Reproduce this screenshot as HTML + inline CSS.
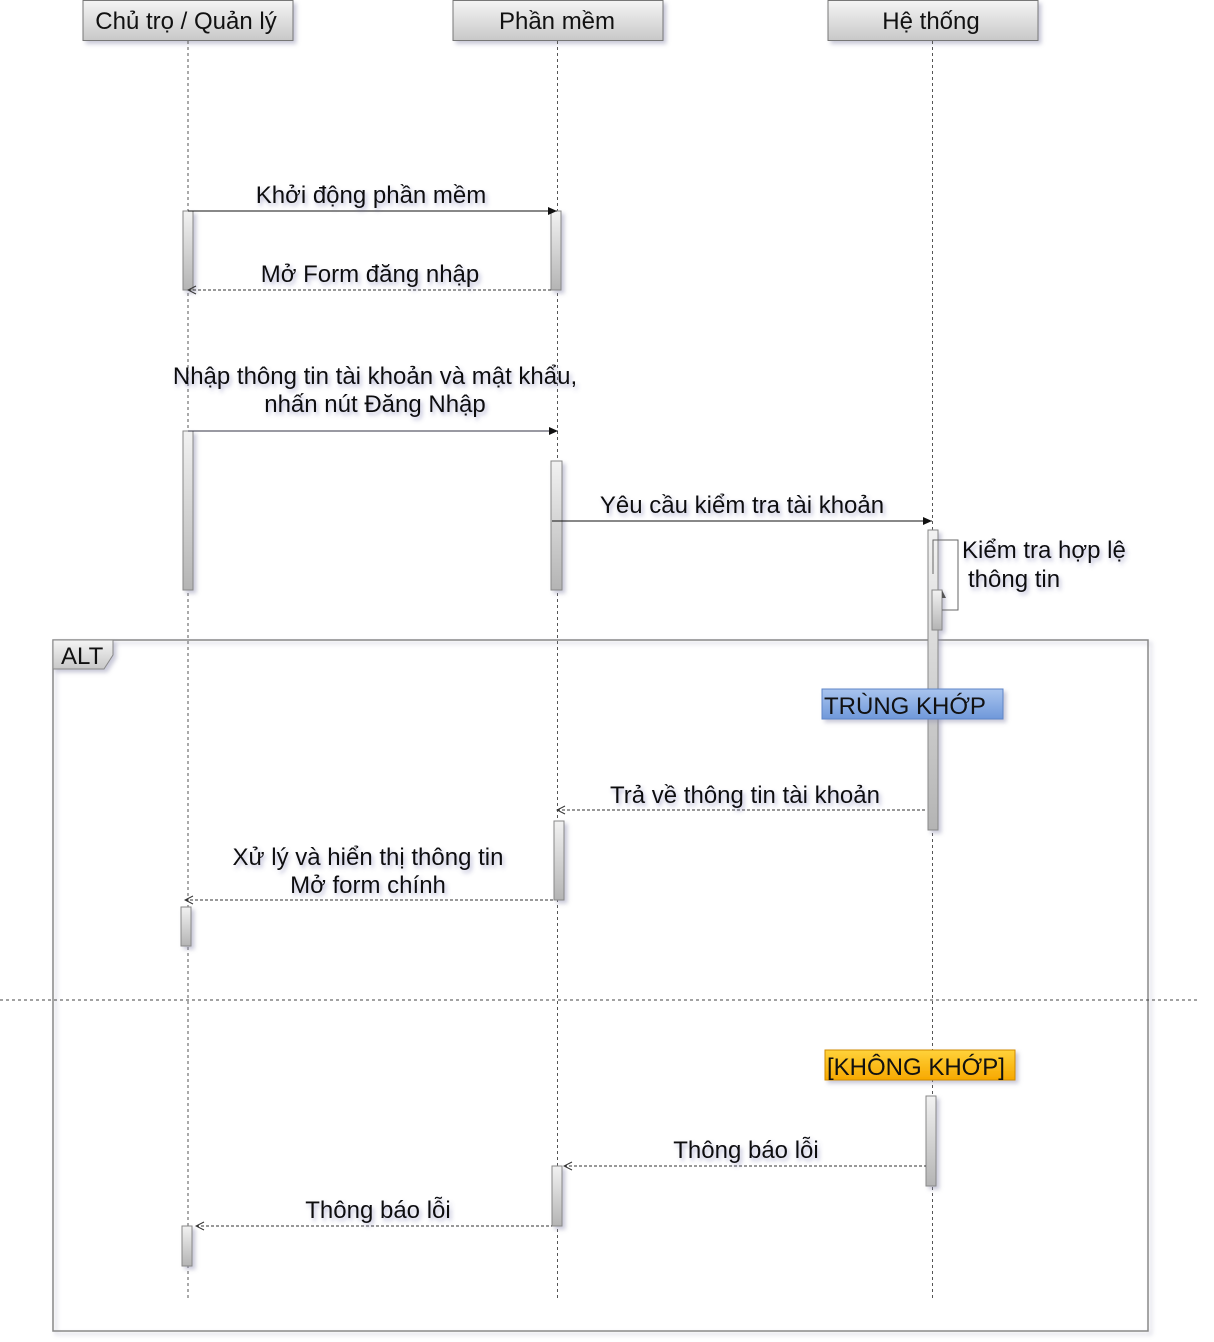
<!DOCTYPE html>
<html><head><meta charset="utf-8"><style>
html,body{margin:0;padding:0;background:#fff;}
svg{display:block}
text{font-family:"Liberation Sans",sans-serif;font-size:24px;fill:#111;}
</style></head><body>
<svg width="1214" height="1342" viewBox="0 0 1214 1342" xmlns="http://www.w3.org/2000/svg">
<defs>
<linearGradient id="hd" x1="0" y1="0" x2="0" y2="1"><stop offset="0" stop-color="#f4f4f4"/><stop offset="1" stop-color="#c8c8c8"/></linearGradient>
<linearGradient id="act" x1="0" y1="0" x2="0" y2="1"><stop offset="0" stop-color="#f2f2f2"/><stop offset="1" stop-color="#b4b4b4"/></linearGradient>
<linearGradient id="blue" x1="0" y1="0" x2="0" y2="1"><stop offset="0" stop-color="#a9c4ee"/><stop offset="1" stop-color="#6f98da"/></linearGradient>
<linearGradient id="org" x1="0" y1="0" x2="0" y2="1"><stop offset="0" stop-color="#ffd23a"/><stop offset="1" stop-color="#f7a800"/></linearGradient>
<filter id="sh" x="-20%" y="-20%" width="150%" height="150%"><feDropShadow dx="3" dy="3" stdDeviation="2" flood-color="#8888aa" flood-opacity="0.45"/></filter>
<filter id="ts" x="-5%" y="-20%" width="110%" height="160%"><feDropShadow dx="2" dy="3" stdDeviation="2" flood-color="#6060a0" flood-opacity="0.45"/></filter>
<marker id="fa" markerWidth="10" markerHeight="10" refX="9" refY="5" orient="auto" markerUnits="userSpaceOnUse"><path d="M0,1 L9,5 L0,9 z" fill="#111"/></marker>
<marker id="oa" markerWidth="12" markerHeight="12" refX="1" refY="6" orient="auto" markerUnits="userSpaceOnUse"><path d="M9,2 L1,6 L9,10" fill="none" stroke="#333" stroke-width="1"/></marker>
</defs>

<g filter="url(#sh)">
<rect x="83" y="0.5" width="210" height="40" fill="url(#hd)" stroke="#777"/>
<rect x="453" y="0.5" width="210" height="40" fill="url(#hd)" stroke="#777"/>
<rect x="828" y="0.5" width="210" height="40" fill="url(#hd)" stroke="#777"/>
</g>
<text x="186" y="29" text-anchor="middle">Chủ trọ / Quản lý</text>
<text x="557" y="29" text-anchor="middle">Phần mềm</text>
<text x="931" y="29" text-anchor="middle">Hệ thống</text>

<g stroke="#555" stroke-width="1" stroke-dasharray="3,3">
<line x1="188" y1="41" x2="188" y2="1300"/>
<line x1="557.5" y1="41" x2="557.5" y2="1300"/>
<line x1="932.5" y1="41" x2="932.5" y2="1300"/>
</g>

<rect x="53" y="640" width="1095" height="691" fill="none" stroke="#888" stroke-width="1.5" filter="url(#sh)"/>
<path d="M53,640 L113,640 L113,655 L104,669 L53,669 z" fill="url(#hd)" stroke="#888" filter="url(#sh)"/>
<text x="61" y="664">ALT</text>
<line x1="0" y1="1000" x2="1198" y2="1000" stroke="#444" stroke-dasharray="3,3"/>

<g fill="url(#act)" stroke="#888" filter="url(#sh)">
<rect x="183" y="211" width="10" height="79"/>
<rect x="551" y="211" width="10" height="79"/>
<rect x="183" y="431" width="10" height="159"/>
<rect x="551" y="461" width="11" height="129"/>
<rect x="928" y="530" width="10" height="300"/>
<rect x="932" y="590" width="10" height="40"/>
<rect x="554" y="821" width="10" height="79"/>
<rect x="181" y="907" width="10" height="39"/>
<rect x="926" y="1096" width="10" height="90"/>
<rect x="552" y="1166" width="10" height="60"/>
<rect x="182" y="1226" width="10" height="40"/>
</g>
<path d="M933,574 L933,540 L958,540 L958,610 L942,610" fill="none" stroke="#666" stroke-width="1"/>
<path d="M942,590 L946,598 L942,598 z" fill="#555"/>

<rect x="822" y="689" width="181" height="30" fill="url(#blue)" stroke="#5f86c8" filter="url(#sh)"/>
<text x="824" y="714">TRÙNG KHỚP</text>
<rect x="825" y="1050" width="190" height="30" fill="url(#org)" stroke="#d08a00" filter="url(#sh)"/>
<text x="827" y="1075">[KHÔNG KHỚP]</text>

<g stroke="#111" stroke-width="1">
<line x1="188" y1="211" x2="557" y2="211" marker-end="url(#fa)"/>
<line x1="188" y1="431" x2="558" y2="431" marker-end="url(#fa)" stroke="#334"/>
<line x1="552" y1="521" x2="932" y2="521" marker-end="url(#fa)"/>
</g>
<g stroke="#333" stroke-width="1" stroke-dasharray="3,2" fill="none">
<line x1="188" y1="290" x2="551" y2="290" marker-start="url(#oa)"/>
<line x1="557" y1="810" x2="927" y2="810" marker-start="url(#oa)"/>
<line x1="185" y1="900" x2="554" y2="900" marker-start="url(#oa)"/>
<line x1="564" y1="1166" x2="926" y2="1166" marker-start="url(#oa)"/>
<line x1="196" y1="1226" x2="552" y2="1226" marker-start="url(#oa)"/>
</g>

<g filter="url(#ts)">
<text x="371" y="203" text-anchor="middle">Khởi động phần mềm</text>
<text x="370" y="282" text-anchor="middle">Mở Form đăng nhập</text>
<text x="375" y="384" text-anchor="middle">Nhập thông tin tài khoản và mật khẩu,</text>
<text x="375" y="412" text-anchor="middle">nhấn nút Đăng Nhập</text>
<text x="742" y="513" text-anchor="middle">Yêu cầu kiểm tra tài khoản</text>
<text x="962" y="558">Kiểm tra hợp lệ</text>
<text x="968" y="587">thông tin</text>
<text x="745" y="803" text-anchor="middle">Trả về thông tin tài khoản</text>
<text x="368" y="865" text-anchor="middle">Xử lý và hiển thị thông tin</text>
<text x="368" y="893" text-anchor="middle">Mở form chính</text>
<text x="746" y="1158" text-anchor="middle">Thông báo lỗi</text>
<text x="378" y="1218" text-anchor="middle">Thông báo lỗi</text>
</g>
</svg>
</body></html>
